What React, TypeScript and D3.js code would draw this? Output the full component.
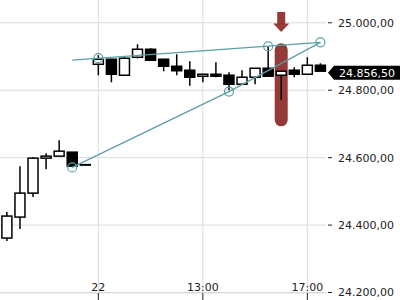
import React from "react";
import * as d3 from "d3";

const times = [
  "21 14:30", "21 15:00", "21 15:30", "21 16:00", "21 16:30", "21 17:00", "21 17:30",
  "22 09:00", "22 09:30", "22 10:00", "22 10:30", "22 11:00", "22 11:30", "22 12:00", "22 12:30",
  "22 13:00", "22 13:30", "22 14:00", "22 14:30", "22 15:00", "22 15:30", "22 16:00", "22 16:30",
  "22 17:00", "22 17:30",
];
const opens = [24361.5, 24423.7, 24494.8, 24598.5, 24604.5, 24616.3, 24579.3, 24877, 24891.9, 24844.5, 24897.8, 24921.5, 24891.9, 24871.1, 24859.3, 24841.5, 24847.4, 24844.5, 24817.8, 24838.5, 24865.2, 24844.5, 24859.3, 24847.4, 24874.1];
const highs = [24438.5, 24574.8, 24601.5, 24613.3, 24651.9, 24616.3, 24579.3, 24903.7, 24893, 24897.8, 24936.3, 24924.5, 24893, 24906.7, 24885.9, 24847.4, 24883, 24853.3, 24859.3, 24865.2, 24930.4, 24856.3, 24868.2, 24897.8, 24880];
const lows = [24352.6, 24388.2, 24483, 24565.9, 24604.5, 24574.8, 24579.3, 24844.5, 24823.7, 24844.5, 24894.8, 24888.9, 24856.3, 24844.5, 24813.3, 24823.7, 24838.5, 24800, 24817.8, 24817.8, 24841.5, 24771.9, 24838.5, 24847.4, 24856.5];
const closes = [24426.7, 24494.8, 24598.5, 24604.5, 24619.3, 24574.8, 24579.3, 24891.9, 24847.4, 24894.8, 24921.5, 24888.9, 24871.1, 24857.8, 24838.5, 24847.4, 24841.5, 24817.8, 24838.5, 24865.2, 24841.5, 24856.3, 24847.4, 24874.1, 24856.5];

const xTickIndex = [7, 15, 23];
const xTickLabels = ["22", "13:00", "17:00"];
const yTicks = [24200, 24400, 24600, 24800, 25000];
const lastPrice = 24856.5;

// drawing tools
const upperLineIdx = [5, 24];
const upperLinePrice = [24889, 24942];
const lowerLineIdx = [5, 17, 24];
const lowerLinePrice = [24571, 24796, 24942];
const anchorIdx = [5, 7, 17, 20, 24];
const anchorPrice = [24571, 24895, 24796, 24930, 24942];
const markerIdx = 21;
const markerPrice = [24939, 24693];

const W = 400;
const H = 300;
const plotRight = 326;
const axisY = 293;

const locale = d3.formatLocale({ decimal: ",", thousands: ".", grouping: [3], currency: ["", "€"] });
const fmt = locale.format(",.2f");

export default function App() {
  const x = d3.scaleLinear().domain([0, 24]).range([6.9, 320.4]);
  const y = d3.scaleLinear().domain([24200, 25000]).range([292.5, 22.8]);
  const teal = "#5b9fa6";
  const red = "#953a36";
  const font = "'DejaVu Sans', sans-serif";
  const bw = 10;

  const upperLine = d3.line<number>().x((d) => x(upperLineIdx[d])).y((d) => y(upperLinePrice[d]));
  const lowerLine = d3.line<number>().x((d) => x(lowerLineIdx[d])).y((d) => y(lowerLinePrice[d]));

  const mx = x(markerIdx);
  const mTop = y(markerPrice[0]);
  const mBot = y(markerPrice[1]);
  const ly = y(lastPrice) + 1.5;

  return (
    <svg width={W} height={H} style={{ position: "fixed", left: 0, top: 0, background: "#fff" }}>
      {/* grid */}
      {xTickIndex.map((i) => (
        <line key={"gx" + i} x1={x(i)} x2={x(i)} y1={0} y2={axisY} stroke="#dcdcdc" strokeWidth={1} />
      ))}
      {yTicks.map((t) => (
        <line key={"gy" + t} x1={0} x2={plotRight} y1={y(t)} y2={y(t)} stroke="#dcdcdc" strokeWidth={1} />
      ))}
      {/* marker bar */}
      <rect x={mx - 6.5} y={mTop} width={13} height={mBot - mTop} rx={6.5} ry={6.5} fill={red} />
      <path
        d={`M${mx - 4},12 L${mx + 4},12 L${mx + 4},23.5 L${mx + 8},23.5 L${mx},32 L${mx - 8},23.5 L${mx - 4},23.5 Z`}
        fill={red}
      />
      {/* candles */}
      {opens.map((o, i) => {
        const c = closes[i];
        const up = c >= o;
        const top = y(Math.max(o, c));
        const bot = y(Math.min(o, c));
        const cx = x(i);
        return (
          <g key={"c" + i}>
            <line x1={cx} x2={cx} y1={y(highs[i])} y2={y(lows[i])} stroke="#000" strokeWidth={1.5} />
            <rect
              x={cx - bw / 2}
              y={top}
              width={bw}
              height={Math.max(bot - top, 0.5)}
              fill={up ? "#fff" : "#000"}
              stroke="#000"
              strokeWidth={1.5}
            />
          </g>
        );
      })}
      {/* drawings */}
      <path d={upperLine(upperLineIdx.map((_, i) => i)) || ""} fill="none" stroke={teal} strokeWidth={1.3} />
      <path d={lowerLine(lowerLineIdx.map((_, i) => i)) || ""} fill="none" stroke={teal} strokeWidth={1.3} />
      {anchorIdx.map((a, i) => (
        <circle key={"a" + i} cx={x(a)} cy={y(anchorPrice[i])} r={4.5} fill="none" stroke={teal} strokeWidth={1.2} />
      ))}
      {/* x axis */}
      <line x1={0} x2={plotRight} y1={axisY} y2={axisY} stroke="#dcdcdc" />
      {xTickIndex.map((i, k) => (
        <g key={"xt" + i}>
          <line x1={x(i)} x2={x(i)} y1={axisY} y2={300} stroke="#222" strokeWidth={1} />
          <text x={x(i)} y={291} textAnchor="middle" fontFamily={font} fontSize={11} fill="#222">
            {xTickLabels[k]}
          </text>
        </g>
      ))}
      {/* y axis */}
      {yTicks.map((t) => (
        <g key={"yt" + t}>
          <line x1={328} x2={332} y1={y(t)} y2={y(t)} stroke="#222" strokeWidth={1} />
          <text x={338} y={y(t)} dy="0.35em" fontFamily={font} fontSize={11} fill="#222">
            {fmt(t)}
          </text>
        </g>
      ))}
      {/* last price label */}
      <path d={`M328,${ly} L334,${ly - 7} L400,${ly - 7} L400,${ly + 7} L334,${ly + 7} Z`} fill="#000" />
      <text x={339} y={ly} dy="0.36em" fontFamily={font} fontSize={11} fill="#fff">
        {fmt(lastPrice)}
      </text>
    </svg>
  );
}
